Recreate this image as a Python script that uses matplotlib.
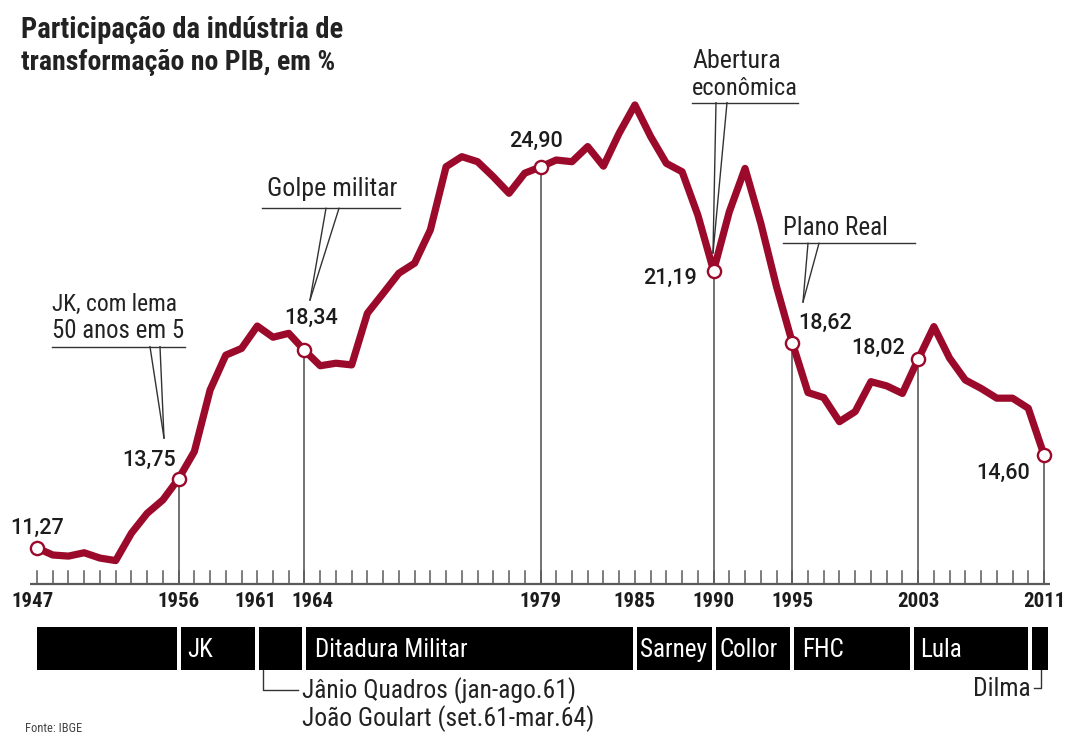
import matplotlib
matplotlib.use("Agg")
import matplotlib.pyplot as plt
from matplotlib import font_manager as fm
from matplotlib.patches import Rectangle
from matplotlib.transforms import blended_transform_factory

# ---------------- data ----------------
years = list(range(1947, 2012))
share = [11.27, 11.02, 10.98, 11.10, 10.91, 10.82, 11.80, 12.51, 12.99, 13.75,
         14.72, 16.92, 18.17, 18.41, 19.21, 18.81, 18.95, 18.34, 17.79, 17.88,
         17.82, 19.67, 20.38, 21.10, 21.46, 22.65, 24.91, 25.27, 25.09, 24.55,
         23.96, 24.68, 24.90, 25.15, 25.09, 25.63, 24.93, 26.11, 27.12, 25.99,
         25.03, 24.73, 23.18, 21.19, 23.30, 24.85, 22.89, 20.62, 18.62, 16.83,
         16.65, 15.79, 16.15, 17.22, 17.07, 16.80, 18.02, 19.19, 18.06, 17.28,
         16.98, 16.63, 16.63, 16.27, 14.60]
marked_years = [1947, 1956, 1964, 1979, 1990, 1995, 2003, 2011]
drop_years = [1956, 1964, 1979, 1990, 1995, 2003, 2011]
tick_label_years = [1947, 1956, 1961, 1964, 1979, 1985, 1990, 1995, 2003, 2011]
era_names = ["", "JK", "", "Ditadura Militar", "Sarney", "Collor", "FHC", "Lula", ""]
era_bounds = [1947, 1956, 1961, 1964, 1985, 1990, 1995, 2002.6, 2010.1, 2011.26]

# ---------------- fonts ----------------
avail = {f.name for f in fm.fontManager.ttflist}
def pick(*names):
    for n in names:
        if n in avail:
            return n
    return "DejaVu Sans"
COND = pick("Roboto Condensed", "Liberation Sans Narrow", "Open Sans Condensed",
            "Noto Sans Condensed", "DejaVu Sans Condensed", "Roboto")
MAIN = pick("Roboto", "Liberation Sans", "Noto Sans")

RED = "#9b0a2b"
INK = "#1c1c1c"
GRAY = "#5a5a5a"

W, H = 1066, 736
fig = plt.figure(figsize=(W / 100, H / 100), dpi=100)
ax = fig.add_axes([0, 0, 1, 1])
ax.set_axis_off()
# pixel calibration of the reference: 1947 -> x=37, 2011 -> x=1044 ; 11.27 -> y=548, 24.90 -> y=167
pxy = (1044 - 37) / 64.0
pxv = (548 - 167) / (24.90 - 11.27)
ax.set_xlim(1947 - 37 / pxy, 1947 + (W - 37) / pxy)
ax.set_ylim(11.27 - (H - 548) / pxv, 11.27 + 548 / pxv)

def X(px):
    return px / W
def Y(py):
    return 1 - py / H
TA = ax.transAxes
r = fig.canvas.get_renderer()

def fit(t, target):
    w = t.get_window_extent(renderer=r).width
    t.set_fontsize(t.get_fontsize() * target / w)
    return t.get_fontsize()

BASE = 10.0
val = dict(zip(years, share))

# baseline + ticks
ax.plot([years[0] - 0.45, years[-1] + 0.4], [BASE, BASE], color=GRAY, lw=1.6, zorder=2,
        solid_capstyle="butt")
tick_h = 13 / pxv
for yr in years:
    ax.plot([yr, yr], [BASE, BASE + tick_h], color=GRAY, lw=1.1, zorder=2)

# drop lines
for yr in drop_years:
    ax.plot([yr, yr], [BASE, val[yr]], color=GRAY, lw=1.2, zorder=2)

# main line
ax.plot(years, share, color=RED, lw=5.2, solid_joinstyle="round", solid_capstyle="round", zorder=4)
ax.plot(marked_years, [val[y] for y in marked_years], linestyle="none", marker="o",
        markersize=9.5, markerfacecolor="white", markeredgecolor=RED, markeredgewidth=1.7, zorder=5)

# value labels (offsets in pixels)
label_off = {1947: (0, 20, "center"), 1956: (-3, 18, "right"), 1964: (7, 32, "center"),
             1979: (-5, 26, "center"), 1990: (-17, -8, "right"), 1995: (6, 19, "left"),
             2003: (-13, 11, "right"), 2011: (-14, -18, "right")}
for yr in marked_years:
    dx, dy, ha = label_off[yr]
    ax.annotate(f"{val[yr]:.2f}".replace(".", ","), xy=(yr, val[yr]), xytext=(dx, dy),
                textcoords="offset pixels", ha=ha, va="center", fontsize=15.5,
                fontfamily=MAIN, fontweight="medium", color=INK, zorder=6)

# tick labels
shift = {1961: -2, 1964: 8, 1947: -4}
for yr in tick_label_years:
    ax.annotate(str(yr), xy=(yr, BASE), xytext=(shift.get(yr, 0), -18), textcoords="offset pixels",
                ha="center", va="center", fontsize=15, fontfamily=COND, fontweight="semibold", color=INK)

# title
t1 = ax.text(X(21), Y(38), "Participação da indústria de", transform=TA, ha="left", va="baseline",
             fontsize=17, fontfamily=COND, fontweight="bold", color="#222222")
t2 = ax.text(X(21), Y(70), "transformação no PIB, em %", transform=TA, ha="left", va="baseline",
             fontsize=17, fontfamily=COND, fontweight="bold", color="#222222")
fit(t1, 322)
fit(t2, 315)

# callouts
def callout(lines, left, baselines, widths, ul, base_x, tip):
    for txt, bl, w in zip(lines, baselines, widths):
        t = ax.text(X(left), Y(bl), txt, transform=TA, ha="left", va="baseline",
                    fontsize=13, fontfamily=COND, color="#222222")
        fit(t, w)
    ax.plot([X(ul[0]), X(ul[1])], [Y(ul[2]), Y(ul[2])], transform=TA, color="#333333", lw=1.0)
    for bx in base_x:
        ax.plot([X(bx), X(tip[0])], [Y(ul[2]), Y(tip[1])], transform=TA, color="#333333", lw=1.0)

callout(["JK, com lema", "50 anos em 5"], 52, [311, 338], [125, 132], (52, 185, 346.7),
        (150, 160), (164, 438))
callout(["Golpe militar"], 267, [196], [130], (262, 400, 208.3), (326, 339), (310, 300))
callout(["Abertura", "econômica"], 692, [68, 95], [88, 106], (692, 798, 102.7),
        (716, 727), (713, 253))
callout(["Plano Real"], 783, [235], [105], (783, 915, 243.3), (808, 819), (803, 302))

# era bar
tb = blended_transform_factory(ax.transData, TA)
gap = 4 / pxy
n = len(era_names)
probe = ax.text(0, 0, "Ditadura Militar", fontsize=15, fontfamily=COND, transform=TA)
era_fs = fit(probe, 153)
probe.remove()
pad = {"JK": 7, "Ditadura Militar": 9, "Sarney": 3, "Collor": 4, "FHC": 8, "Lula": 6}
for i, name in enumerate(era_names):
    x0 = era_bounds[i] + (gap / 2 if i > 0 else 0)
    x1 = era_bounds[i + 1] - (gap / 2 if i < n - 1 else 0)
    ax.add_patch(Rectangle((x0, Y(670)), x1 - x0, Y(627) - Y(670), transform=tb,
                           facecolor="black", edgecolor="none", zorder=3))
    if name:
        ax.annotate(name, xy=(x0, Y(657)), xycoords=tb, xytext=(pad.get(name, 6), 0),
                    textcoords="offset pixels", ha="left", va="baseline", color="white",
                    fontsize=era_fs, fontfamily=COND, zorder=4)

# notes below the bar
ax.plot([X(263), X(263), X(298)], [Y(670), Y(690), Y(690)], transform=TA, color="#333333", lw=1.0)
n1 = ax.text(X(302), Y(698), "Jânio Quadros (jan-ago.61)", transform=TA, ha="left", va="baseline",
             fontsize=14, fontfamily=COND, color="#222222")
n2 = ax.text(X(302), Y(726), "João Goulart (set.61-mar.64)", transform=TA, ha="left", va="baseline",
             fontsize=14, fontfamily=COND, color="#222222")
note_fs = fit(n1, 276)
n2.set_fontsize(note_fs)
ax.plot([X(1034), X(1041), X(1041)], [Y(688), Y(688), Y(670)], transform=TA, color="#333333", lw=1.0)
ax.text(X(1031), Y(696), "Dilma", transform=TA, ha="right", va="baseline",
        fontsize=note_fs, fontfamily=COND, color="#222222")
ax.text(X(25), Y(735.5), "Fonte: IBGE", transform=TA, ha="left", va="bottom",
        fontsize=9, fontfamily=COND, color="#444444")

fig.savefig("out.png", dpi=100, facecolor="white")
